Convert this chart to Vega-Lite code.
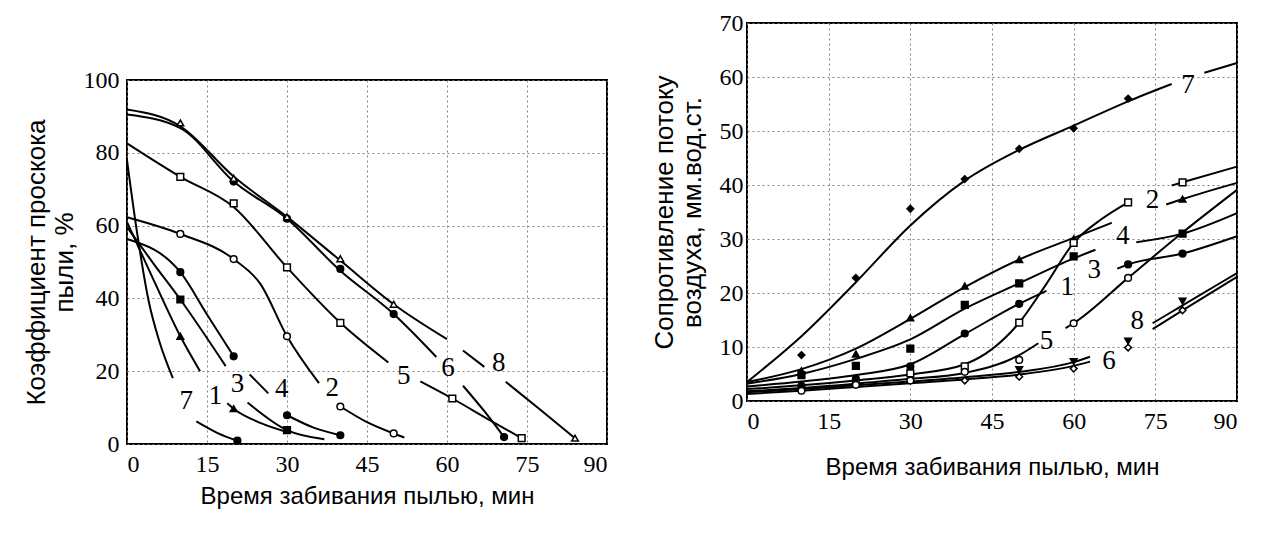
{
"$schema": "https://vega.github.io/schema/vega-lite/v6.json",
"background": "white",
"padding": {"left": 22, "top": 10, "right": 5, "bottom": 5},
"config": {
 "view": {"stroke": "black", "strokeWidth": 2},
 "axis": {"grid": true, "gridDash": [2, 3], "gridColor": "#777", "gridOpacity": 0.9, "domain": false, "ticks": false,
  "labelFont": "Liberation Serif", "labelFontSize": 24, "labelColor": "black", "labelPadding": 8,
  "titleFont": "Liberation Sans", "titleFontSize": 26, "titleFontWeight": "normal", "titleColor": "black", "titleLineHeight": 28}
},
"datasets": {
 "L": [
  {"c":"8","s":1,"t":0,"v":91.9,"k":"line"},{"c":"8","s":1,"t":10,"v":87.3,"k":"line"},{"c":"8","s":1,"t":20,"v":73.5,"k":"line"},{"c":"8","s":1,"t":30,"v":62.4,"k":"line"},{"c":"8","s":1,"t":40,"v":50.4,"k":"line"},{"c":"8","s":1,"t":50,"v":38.4,"k":"line"},{"c":"8","s":1,"t":60,"v":28.8,"k":"line"},
  {"c":"8","s":2,"t":63,"v":25.7,"k":"line"},{"c":"8","s":2,"t":67,"v":21.2,"k":"line"},
  {"c":"8","s":3,"t":71,"v":17.1,"k":"line"},{"c":"8","s":3,"t":77.5,"v":9.4,"k":"line"},{"c":"8","s":3,"t":84,"v":1.6,"k":"line"},
  {"c":"6","s":1,"t":0,"v":90.5,"k":"line"},{"c":"6","s":1,"t":10,"v":86.8,"k":"line"},{"c":"6","s":1,"t":20,"v":72.1,"k":"line"},{"c":"6","s":1,"t":30,"v":61.9,"k":"line"},{"c":"6","s":1,"t":40,"v":47.6,"k":"line"},{"c":"6","s":1,"t":50,"v":35.7,"k":"line"},{"c":"6","s":1,"t":58,"v":23.9,"k":"line"},
  {"c":"6","s":2,"t":63,"v":16,"k":"line"},{"c":"6","s":2,"t":67,"v":9,"k":"line"},{"c":"6","s":2,"t":70.7,"v":1.9,"k":"line"},
  {"c":"5","s":1,"t":0,"v":82.6,"k":"line"},{"c":"5","s":1,"t":10,"v":73.4,"k":"line"},{"c":"5","s":1,"t":20,"v":65.1,"k":"line"},{"c":"5","s":1,"t":30,"v":48.5,"k":"line"},{"c":"5","s":1,"t":40,"v":33.3,"k":"line"},{"c":"5","s":1,"t":49,"v":22.4,"k":"line"},
  {"c":"5","s":2,"t":55,"v":17.2,"k":"line"},{"c":"5","s":2,"t":61,"v":12.5,"k":"line"},{"c":"5","s":2,"t":67.5,"v":7,"k":"line"},{"c":"5","s":2,"t":74,"v":1.6,"k":"line"},
  {"c":"2","s":1,"t":0,"v":62.3,"k":"line"},{"c":"2","s":1,"t":10,"v":57.7,"k":"line"},{"c":"2","s":1,"t":20,"v":50.8,"k":"line"},{"c":"2","s":1,"t":25,"v":44,"k":"line"},{"c":"2","s":1,"t":30,"v":29.6,"k":"line"},{"c":"2","s":1,"t":36,"v":16.7,"k":"line"},
  {"c":"2","s":2,"t":40,"v":10.3,"k":"line"},{"c":"2","s":2,"t":45,"v":6,"k":"line"},{"c":"2","s":2,"t":50,"v":2.9,"k":"line"},{"c":"2","s":2,"t":52,"v":1.8,"k":"line"},
  {"c":"4","s":1,"t":0,"v":56.3,"k":"line"},{"c":"4","s":1,"t":10,"v":47.2,"k":"line"},{"c":"4","s":1,"t":15,"v":35.6,"k":"line"},{"c":"4","s":1,"t":20,"v":24.1,"k":"line"},
  {"c":"4","s":2,"t":23,"v":19.1,"k":"line"},{"c":"4","s":2,"t":26.5,"v":13.9,"k":"line"},
  {"c":"4","s":3,"t":30,"v":7.9,"k":"line"},{"c":"4","s":3,"t":35,"v":4.5,"k":"line"},{"c":"4","s":3,"t":40,"v":2.4,"k":"line"},
  {"c":"3","s":1,"t":0,"v":59.6,"k":"line"},{"c":"3","s":1,"t":5,"v":49.5,"k":"line"},{"c":"3","s":1,"t":10,"v":39.7,"k":"line"},{"c":"3","s":1,"t":18.5,"v":21.4,"k":"line"},
  {"c":"3","s":2,"t":22.6,"v":11.4,"k":"line"},{"c":"3","s":2,"t":30,"v":3.8,"k":"line"},{"c":"3","s":2,"t":37,"v":1.3,"k":"line"},
  {"c":"1","s":1,"t":0,"v":61,"k":"line"},{"c":"1","s":1,"t":5,"v":45,"k":"line"},{"c":"1","s":1,"t":10,"v":29.6,"k":"line"},{"c":"1","s":1,"t":13.7,"v":20,"k":"line"},
  {"c":"1","s":2,"t":18.8,"v":11.2,"k":"line"},{"c":"1","s":2,"t":20,"v":9.7,"k":"line"},{"c":"1","s":2,"t":25,"v":5.8,"k":"line"},{"c":"1","s":2,"t":30,"v":3.3,"k":"line"},
  {"c":"7","s":1,"t":0,"v":78,"k":"line"},{"c":"7","s":1,"t":2,"v":57,"k":"line"},{"c":"7","s":1,"t":4.1,"v":39,"k":"line"},{"c":"7","s":1,"t":6,"v":28.5,"k":"line"},{"c":"7","s":1,"t":8.6,"v":18.1,"k":"line"},
  {"c":"7","s":2,"t":13,"v":6.2,"k":"line"},{"c":"7","s":2,"t":17,"v":3,"k":"line"},{"c":"7","s":2,"t":20.7,"v":0.9,"k":"line"},
  {"c":"1","t":10,"v":29.6,"k":"pt"},{"c":"1","t":20,"v":9.7,"k":"pt"},
  {"c":"2","t":10,"v":57.7,"k":"pt"},{"c":"2","t":20,"v":50.8,"k":"pt"},{"c":"2","t":30,"v":29.6,"k":"pt"},{"c":"2","t":40,"v":10.3,"k":"pt"},{"c":"2","t":50,"v":2.9,"k":"pt"},
  {"c":"3","t":10,"v":39.7,"k":"pt"},{"c":"3","t":30,"v":3.8,"k":"pt"},
  {"c":"4","t":10,"v":47.2,"k":"pt"},{"c":"4","t":20,"v":24.1,"k":"pt"},{"c":"4","t":30,"v":7.9,"k":"pt"},{"c":"4","t":40,"v":2.4,"k":"pt"},
  {"c":"5","t":10,"v":73.4,"k":"pt"},{"c":"5","t":20,"v":66.1,"k":"pt"},{"c":"5","t":30,"v":48.5,"k":"pt"},{"c":"5","t":40,"v":33.3,"k":"pt"},{"c":"5","t":61,"v":12.5,"k":"pt"},{"c":"5","t":74,"v":1.6,"k":"pt"},
  {"c":"6","t":20,"v":72.1,"k":"pt"},{"c":"6","t":30,"v":61.9,"k":"pt"},{"c":"6","t":40,"v":48.1,"k":"pt"},{"c":"6","t":50,"v":35.7,"k":"pt"},{"c":"6","t":70.7,"v":1.9,"k":"pt"},
  {"c":"7","t":20.7,"v":0.9,"k":"pt"},
  {"c":"8","t":10,"v":88.2,"k":"pt"},{"c":"8","t":20,"v":73,"k":"pt"},{"c":"8","t":30,"v":62.4,"k":"pt"},{"c":"8","t":40,"v":50.9,"k":"pt"},{"c":"8","t":50,"v":38.4,"k":"pt"},{"c":"8","t":84,"v":1.6,"k":"pt"},
  {"c":"7","t":11.1,"v":11.9,"k":"lbl"},{"c":"1","t":16.6,"v":13.3,"k":"lbl"},{"c":"3","t":20.7,"v":16.6,"k":"lbl"},{"c":"4","t":29,"v":15,"k":"lbl"},{"c":"2","t":38.5,"v":15.5,"k":"lbl"},{"c":"5","t":51.9,"v":18.8,"k":"lbl"},{"c":"6","t":60.2,"v":20.9,"k":"lbl"},{"c":"8","t":69.7,"v":22.3,"k":"lbl"}
 ],
 "R": [
  {"c":"7","s":1,"t":0,"v":3.5,"k":"line"},{"c":"7","s":1,"t":10,"v":12,"k":"line"},{"c":"7","s":1,"t":20,"v":22,"k":"line"},{"c":"7","s":1,"t":30,"v":32.5,"k":"line"},{"c":"7","s":1,"t":40,"v":40.8,"k":"line"},{"c":"7","s":1,"t":50,"v":46.5,"k":"line"},{"c":"7","s":1,"t":60,"v":51,"k":"line"},{"c":"7","s":1,"t":70,"v":55.5,"k":"line"},{"c":"7","s":1,"t":78,"v":58.7,"k":"line"},
  {"c":"7","s":2,"t":84,"v":60.8,"k":"line"},{"c":"7","s":2,"t":90,"v":62.6,"k":"line"},
  {"c":"1","s":1,"t":0,"v":3.5,"k":"line"},{"c":"1","s":1,"t":10,"v":5.9,"k":"line"},{"c":"1","s":1,"t":20,"v":9.7,"k":"line"},{"c":"1","s":1,"t":30,"v":15.2,"k":"line"},{"c":"1","s":1,"t":40,"v":21.1,"k":"line"},{"c":"1","s":1,"t":50,"v":26.2,"k":"line"},{"c":"1","s":1,"t":60,"v":30.2,"k":"line"},{"c":"1","s":1,"t":67,"v":33,"k":"line"},
  {"c":"1","s":2,"t":77,"v":36.4,"k":"line"},{"c":"1","s":2,"t":80,"v":37.4,"k":"line"},{"c":"1","s":2,"t":90,"v":40.4,"k":"line"},
  {"c":"4","s":1,"t":0,"v":3.2,"k":"line"},{"c":"4","s":1,"t":10,"v":5,"k":"line"},{"c":"4","s":1,"t":20,"v":7.8,"k":"line"},{"c":"4","s":1,"t":30,"v":11.4,"k":"line"},{"c":"4","s":1,"t":40,"v":17.1,"k":"line"},{"c":"4","s":1,"t":50,"v":21.8,"k":"line"},{"c":"4","s":1,"t":60,"v":26.4,"k":"line"},{"c":"4","s":1,"t":64,"v":28,"k":"line"},
  {"c":"4","s":2,"t":71.5,"v":29.4,"k":"line"},{"c":"4","s":2,"t":80,"v":31,"k":"line"},{"c":"4","s":2,"t":90,"v":34.8,"k":"line"},
  {"c":"3","s":1,"t":0,"v":2.7,"k":"line"},{"c":"3","s":1,"t":10,"v":3.6,"k":"line"},{"c":"3","s":1,"t":20,"v":4.8,"k":"line"},{"c":"3","s":1,"t":30,"v":6.8,"k":"line"},{"c":"3","s":1,"t":40,"v":12.4,"k":"line"},{"c":"3","s":1,"t":50,"v":18,"k":"line"},{"c":"3","s":1,"t":55,"v":20.4,"k":"line"},
  {"c":"3","s":2,"t":68,"v":24.5,"k":"line"},{"c":"3","s":2,"t":70,"v":25.3,"k":"line"},{"c":"3","s":2,"t":80,"v":27.3,"k":"line"},{"c":"3","s":2,"t":90,"v":30.5,"k":"line"},
  {"c":"2","s":1,"t":0,"v":2.2,"k":"line"},{"c":"2","s":1,"t":10,"v":2.9,"k":"line"},{"c":"2","s":1,"t":20,"v":3.8,"k":"line"},{"c":"2","s":1,"t":30,"v":4.9,"k":"line"},{"c":"2","s":1,"t":40,"v":6.8,"k":"line"},{"c":"2","s":1,"t":45,"v":9.6,"k":"line"},{"c":"2","s":1,"t":50,"v":14.5,"k":"line"},{"c":"2","s":1,"t":55,"v":21.7,"k":"line"},{"c":"2","s":1,"t":60,"v":29.3,"k":"line"},{"c":"2","s":1,"t":65,"v":33.6,"k":"line"},{"c":"2","s":1,"t":70,"v":36.8,"k":"line"},
  {"c":"2","s":2,"t":78,"v":39.9,"k":"line"},{"c":"2","s":2,"t":80,"v":40.5,"k":"line"},{"c":"2","s":2,"t":90,"v":43.4,"k":"line"},
  {"c":"5","s":1,"t":0,"v":1.8,"k":"line"},{"c":"5","s":1,"t":10,"v":2.4,"k":"line"},{"c":"5","s":1,"t":20,"v":3.2,"k":"line"},{"c":"5","s":1,"t":30,"v":4.1,"k":"line"},{"c":"5","s":1,"t":40,"v":5.2,"k":"line"},{"c":"5","s":1,"t":50,"v":8.5,"k":"line"},{"c":"5","s":1,"t":53.5,"v":10.7,"k":"line"},
  {"c":"5","s":2,"t":58.5,"v":13.5,"k":"line"},{"c":"5","s":2,"t":60,"v":14.4,"k":"line"},{"c":"5","s":2,"t":70,"v":22.8,"k":"line"},{"c":"5","s":2,"t":80,"v":31.2,"k":"line"},{"c":"5","s":2,"t":90,"v":39.1,"k":"line"},
  {"c":"6","s":1,"t":0,"v":1.3,"k":"line"},{"c":"6","s":1,"t":10,"v":1.9,"k":"line"},{"c":"6","s":1,"t":20,"v":2.6,"k":"line"},{"c":"6","s":1,"t":30,"v":3.3,"k":"line"},{"c":"6","s":1,"t":40,"v":4,"k":"line"},{"c":"6","s":1,"t":50,"v":4.9,"k":"line"},{"c":"6","s":1,"t":60,"v":6.5,"k":"line"},{"c":"6","s":1,"t":63,"v":7.3,"k":"line"},
  {"c":"6","s":2,"t":74.5,"v":13.3,"k":"line"},{"c":"6","s":2,"t":80,"v":16.8,"k":"line"},{"c":"6","s":2,"t":90,"v":23,"k":"line"},
  {"c":"8","s":1,"t":0,"v":1.6,"k":"line"},{"c":"8","s":1,"t":10,"v":2.2,"k":"line"},{"c":"8","s":1,"t":20,"v":2.9,"k":"line"},{"c":"8","s":1,"t":30,"v":3.6,"k":"line"},{"c":"8","s":1,"t":40,"v":4.4,"k":"line"},{"c":"8","s":1,"t":50,"v":5.4,"k":"line"},{"c":"8","s":1,"t":60,"v":7.2,"k":"line"},{"c":"8","s":1,"t":63,"v":8.2,"k":"line"},
  {"c":"8","s":2,"t":74.5,"v":14.4,"k":"line"},{"c":"8","s":2,"t":80,"v":17.7,"k":"line"},{"c":"8","s":2,"t":90,"v":23.7,"k":"line"},
  {"c":"7","t":10,"v":8.5,"k":"pt"},{"c":"7","t":20,"v":22.8,"k":"pt"},{"c":"7","t":30,"v":35.6,"k":"pt"},{"c":"7","t":40,"v":41.1,"k":"pt"},{"c":"7","t":50,"v":46.7,"k":"pt"},{"c":"7","t":60,"v":50.5,"k":"pt"},{"c":"7","t":70,"v":56,"k":"pt"},
  {"c":"1","t":10,"v":5.6,"k":"pt"},{"c":"1","t":20,"v":8.7,"k":"pt"},{"c":"1","t":30,"v":15.4,"k":"pt"},{"c":"1","t":40,"v":21.3,"k":"pt"},{"c":"1","t":50,"v":26.2,"k":"pt"},{"c":"1","t":60,"v":30,"k":"pt"},{"c":"1","t":80,"v":37.4,"k":"pt"},
  {"c":"4","t":10,"v":4.8,"k":"pt"},{"c":"4","t":20,"v":6.5,"k":"pt"},{"c":"4","t":30,"v":9.7,"k":"pt"},{"c":"4","t":40,"v":17.8,"k":"pt"},{"c":"4","t":50,"v":21.8,"k":"pt"},{"c":"4","t":60,"v":26.8,"k":"pt"},{"c":"4","t":80,"v":31,"k":"pt"},
  {"c":"3","t":10,"v":2.8,"k":"pt"},{"c":"3","t":20,"v":4.1,"k":"pt"},{"c":"3","t":30,"v":6.4,"k":"pt"},{"c":"3","t":40,"v":12.5,"k":"pt"},{"c":"3","t":50,"v":18,"k":"pt"},{"c":"3","t":70,"v":25.3,"k":"pt"},{"c":"3","t":80,"v":27.3,"k":"pt"},
  {"c":"2","t":20,"v":3.2,"k":"pt"},{"c":"2","t":30,"v":5.1,"k":"pt"},{"c":"2","t":40,"v":6.4,"k":"pt"},{"c":"2","t":50,"v":14.5,"k":"pt"},{"c":"2","t":60,"v":29.3,"k":"pt"},{"c":"2","t":70,"v":36.8,"k":"pt"},{"c":"2","t":80,"v":40.5,"k":"pt"},
  {"c":"5","t":10,"v":1.9,"k":"pt"},{"c":"5","t":20,"v":3,"k":"pt"},{"c":"5","t":30,"v":3.8,"k":"pt"},{"c":"5","t":40,"v":5.4,"k":"pt"},{"c":"5","t":50,"v":7.6,"k":"pt"},{"c":"5","t":60,"v":14.4,"k":"pt"},{"c":"5","t":70,"v":22.8,"k":"pt"},
  {"c":"6","t":40,"v":3.8,"k":"pt"},{"c":"6","t":50,"v":4.5,"k":"pt"},{"c":"6","t":60,"v":6,"k":"pt"},{"c":"6","t":70,"v":9.9,"k":"pt"},{"c":"6","t":80,"v":16.8,"k":"pt"},
  {"c":"8","t":50,"v":5.8,"k":"pt"},{"c":"8","t":60,"v":7.3,"k":"pt"},{"c":"8","t":70,"v":11.1,"k":"pt"},{"c":"8","t":80,"v":18.5,"k":"pt"},
  {"c":"7","t":81,"v":58.5,"k":"lbl"},{"c":"2","t":74.5,"v":37.3,"k":"lbl"},{"c":"4","t":69,"v":30.6,"k":"lbl"},{"c":"1","t":58.8,"v":21.2,"k":"lbl"},{"c":"3","t":63.8,"v":24.2,"k":"lbl"},{"c":"5","t":55,"v":11.2,"k":"lbl"},{"c":"6","t":66.5,"v":7.5,"k":"lbl"},{"c":"8","t":71.7,"v":14.9,"k":"lbl"}
 ]
},
"spacing": 42,
"resolve": {"scale": {"shape": "independent", "fill": "independent"}},
"hconcat": [
 {
  "spacing": 10,
  "vconcat": [
   {"width": 480, "height": 34, "data": {"values": [{}]}, "mark": {"type": "text", "text": ""}, "encoding": {}, "view": {"stroke": null}},
   {
    "width": 480, "height": 364,
    "data": {"name": "L"},
    "encoding": {
     "x": {"field": "t", "type": "quantitative", "scale": {"domain": [0, 90], "nice": false},
       "axis": {"values": [0, 15, 30, 45, 60, 75, 90], "title": "Время забивания пылью, мин", "titlePadding": 8, "titleFontSize": 24}},
     "y": {"field": "v", "type": "quantitative", "scale": {"domain": [0, 100], "nice": false},
       "axis": {"values": [0, 20, 40, 60, 80, 100], "title": ["Коэффициент проскока", "пыли, %"], "titlePadding": 6}}
    },
    "layer": [
     {"transform": [{"filter": "datum.k === 'line'"}],
      "mark": {"type": "line", "color": "black", "strokeWidth": 2, "interpolate": "monotone"},
      "encoding": {"detail": [{"field": "c"}, {"field": "s"}]}},
     {"transform": [{"filter": "datum.k === 'pt'"}],
      "mark": {"type": "point", "filled": true, "stroke": "black", "strokeWidth": 1.5, "size": 45, "opacity": 1},
      "encoding": {
       "shape": {"field": "c", "type": "nominal", "legend": null, "scale": {"domain": ["1","2","3","4","5","6","7","8"], "range": ["triangle-up","circle","square","circle","square","circle","circle","triangle-up"]}},
       "fill": {"field": "c", "type": "nominal", "legend": null, "scale": {"domain": ["1","2","3","4","5","6","7","8"], "range": ["black","white","black","black","white","black","black","white"]}}
      }},
     {"transform": [{"filter": "datum.k === 'lbl'"}],
      "mark": {"type": "text", "font": "Liberation Serif", "fontSize": 27, "color": "black", "align": "center", "baseline": "middle"},
      "encoding": {"text": {"field": "c"}}}
    ]
   }
  ]
 },
 {
  "width": 490, "height": 378,
  "data": {"name": "R"},
  "encoding": {
   "x": {"field": "t", "type": "quantitative", "scale": {"domain": [0, 90], "nice": false},
     "axis": {"values": [0, 15, 30, 45, 60, 75, 90], "title": "Время забивания пылью, мин", "titlePadding": 22, "titleFontSize": 24}},
   "y": {"field": "v", "type": "quantitative", "scale": {"domain": [0, 70], "nice": false},
     "axis": {"values": [0, 10, 20, 30, 40, 50, 60, 70], "title": ["Сопротивление потоку", "воздуха, мм.вод.ст."], "titlePadding": 14, "labelPadding": 4}}
  },
  "layer": [
   {"transform": [{"filter": "datum.k === 'line'"}],
    "mark": {"type": "line", "color": "black", "strokeWidth": 2, "interpolate": "monotone"},
    "encoding": {"detail": [{"field": "c"}, {"field": "s"}]}},
   {"transform": [{"filter": "datum.k === 'pt'"}],
    "mark": {"type": "point", "filled": true, "stroke": "black", "strokeWidth": 1.5, "size": 45, "opacity": 1},
    "encoding": {
     "shape": {"field": "c", "type": "nominal", "legend": null, "scale": {"domain": ["1","2","3","4","5","6","7","8"], "range": ["triangle-up","square","circle","square","circle","diamond","diamond","triangle-down"]}},
     "fill": {"field": "c", "type": "nominal", "legend": null, "scale": {"domain": ["1","2","3","4","5","6","7","8"], "range": ["black","white","black","black","white","white","black","black"]}}
    }},
   {"transform": [{"filter": "datum.k === 'lbl'"}],
    "mark": {"type": "text", "font": "Liberation Serif", "fontSize": 27, "color": "black", "align": "center", "baseline": "middle"},
    "encoding": {"text": {"field": "c"}}}
  ]
 }
]
}
